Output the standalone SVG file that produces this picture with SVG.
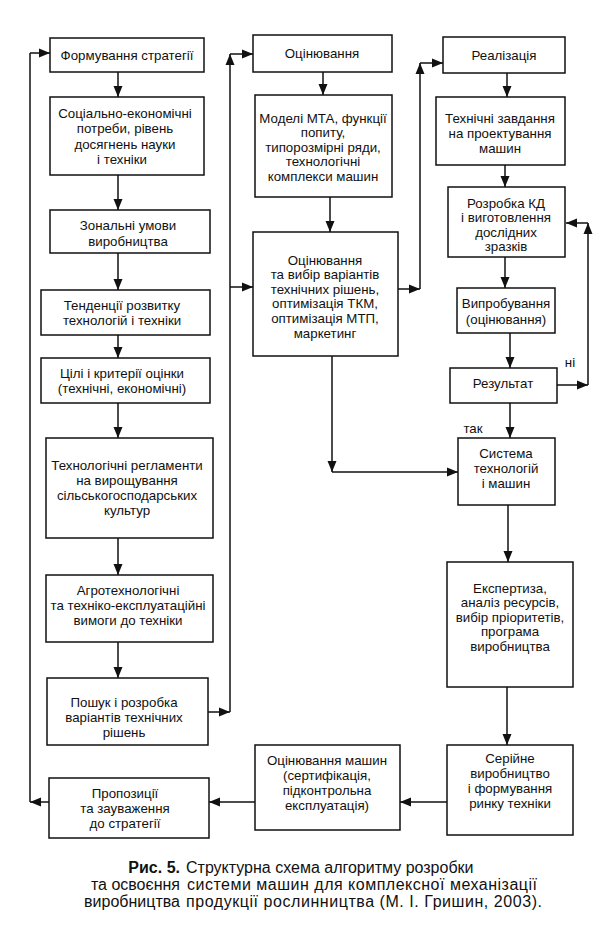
<svg xmlns="http://www.w3.org/2000/svg" width="608" height="928" viewBox="0 0 608 928">
<defs>
<marker id="ah" markerUnits="userSpaceOnUse" markerWidth="11" markerHeight="10" refX="11" refY="5" orient="auto">
<path d="M0,0.5 L11,5 L0,9.5 z" fill="#111"/>
</marker>
<style>
rect.b{fill:#fff;stroke:#111;stroke-width:1.5}
text{font-family:"Liberation Sans",Arial,sans-serif;font-size:13.3px;fill:#111;text-anchor:middle;dominant-baseline:central}
#connectors line{stroke:#111;stroke-width:1.5;fill:none}
.a{marker-end:url(#ah)}
text.cap{font-size:16px;dominant-baseline:auto}
text.l{text-anchor:end}
text.r{text-anchor:start}
</style>
</defs>
<rect width="608" height="928" fill="#fff"/>

<g id="connectors">
<line class="a" x1="118" y1="72" x2="118" y2="97"/>
<line class="a" x1="118" y1="175" x2="118" y2="210"/>
<line class="a" x1="118" y1="253" x2="118" y2="290"/>
<line class="a" x1="118" y1="335" x2="118" y2="358"/>
<line class="a" x1="118" y1="403" x2="118" y2="438"/>
<line class="a" x1="118" y1="538" x2="118" y2="575"/>
<line class="a" x1="118" y1="642" x2="118" y2="678"/>
<line class="a" x1="208" y1="712" x2="230" y2="712"/>
<line class="a" x1="230" y1="712" x2="230" y2="54"/>
<line class="a" x1="230" y1="54" x2="253" y2="54"/>
<line class="a" x1="230" y1="287" x2="253" y2="287"/>
<line class="a" x1="323" y1="72" x2="323" y2="95"/>
<line class="a" x1="330" y1="197" x2="330" y2="232"/>
<line class="a" x1="398" y1="289" x2="420" y2="289"/>
<line class="a" x1="420" y1="289" x2="420" y2="63"/>
<line class="a" x1="420" y1="63" x2="443" y2="63"/>
<line class="a" x1="332" y1="356" x2="332" y2="472"/>
<line class="a" x1="332" y1="472" x2="458" y2="472"/>
<line class="a" x1="507" y1="73" x2="507" y2="97"/>
<line class="a" x1="505" y1="165" x2="505" y2="187"/>
<line class="a" x1="505" y1="257" x2="505" y2="288"/>
<line class="a" x1="510" y1="333" x2="510" y2="368"/>
<line class="a" x1="557" y1="385" x2="588" y2="385"/>
<line class="a" x1="588" y1="385" x2="588" y2="223"/>
<line class="a" x1="588" y1="223" x2="566" y2="223"/>
<line class="a" x1="510" y1="403" x2="510" y2="438"/>
<line class="a" x1="508" y1="505" x2="508" y2="562"/>
<line class="a" x1="507" y1="687" x2="507" y2="745"/>
<line class="a" x1="447" y1="802" x2="400" y2="802"/>
<line class="a" x1="255" y1="802" x2="209" y2="802"/>
<line class="a" x1="49" y1="802" x2="30" y2="802"/>
<line x1="30" y1="802" x2="30" y2="53"/>
<line class="a" x1="30" y1="53" x2="50" y2="53"/>
<text x="570" y="362">ні</text>
<text x="473" y="428">так</text>
</g>

<g id="n1"><rect class="b" x="50" y="38" width="154" height="34"/>
<text x="127" y="55">Формування стратегії</text></g>

<g id="n2"><rect class="b" x="50" y="97" width="154" height="78"/>
<text x="125" y="113">Соціально-економічні</text>
<text x="125" y="128.5">потреби, рівень</text>
<text x="125" y="144">досягнень науки</text>
<text x="122" y="159.5">і техніки</text></g>

<g id="n3"><rect class="b" x="50" y="210" width="160" height="43"/>
<text x="128" y="225">Зональні умови</text>
<text x="128" y="241">виробництва</text></g>

<g id="n4"><rect class="b" x="41" y="290" width="169" height="45"/>
<text x="122" y="305">Тенденції розвитку</text>
<text x="122" y="320">технологій і техніки</text></g>

<g id="n5"><rect class="b" x="41" y="358" width="169" height="45"/>
<text x="122" y="373">Цілі і критерії оцінки</text>
<text x="122" y="388">(технічні, економічні)</text></g>

<g id="n6"><rect class="b" x="46" y="438" width="167" height="100"/>
<text x="127" y="465">Технологічні регламенти</text>
<text x="127" y="480">на вирощування</text>
<text x="127" y="495">сільськогосподарських</text>
<text x="127" y="510">культур</text></g>

<g id="n7"><rect class="b" x="46" y="575" width="167" height="67"/>
<text x="128" y="590">Агротехнологічні</text>
<text x="128" y="605">та техніко-експлуатаційні</text>
<text x="128" y="620">вимоги до техніки</text></g>

<g id="n8"><rect class="b" x="47" y="678" width="161" height="67"/>
<text x="124" y="702">Пошук і розробка</text>
<text x="124" y="717">варіантів технічних</text>
<text x="124" y="732">рішень</text></g>

<g id="n9"><rect class="b" x="49" y="778" width="160" height="60"/>
<text x="125" y="793">Пропозиції</text>
<text x="125" y="808">та зауваження</text>
<text x="125" y="823">до стратегії</text></g>

<g id="n10"><rect class="b" x="253" y="35" width="139" height="37"/>
<text x="322" y="53">Оцінювання</text></g>

<g id="n11"><rect class="b" x="255" y="95" width="137" height="102"/>
<text x="323" y="118">Моделі МТА, функції</text>
<text x="323" y="132.5">попиту,</text>
<text x="323" y="147">типорозмірні ряди,</text>
<text x="323" y="161.5">технологічні</text>
<text x="323" y="176">комплекси машин</text></g>

<g id="n12"><rect class="b" x="253" y="232" width="145" height="124"/>
<text x="325" y="260">Оцінювання</text>
<text x="325" y="274.6">та вибір варіантів</text>
<text x="325" y="289.2">технічних рішень,</text>
<text x="325" y="303.8">оптимізація ТКМ,</text>
<text x="325" y="318.4">оптимізація МТП,</text>
<text x="325" y="333">маркетинг</text></g>

<g id="n13"><rect class="b" x="255" y="745" width="145" height="85"/>
<text x="327" y="760">Оцінювання машин</text>
<text x="327" y="775">(сертифікація,</text>
<text x="327" y="790">підконтрольна</text>
<text x="327" y="805">експлуатація)</text></g>

<g id="n14"><rect class="b" x="443" y="37" width="122" height="36"/>
<text x="504" y="55">Реалізація</text></g>

<g id="n15"><rect class="b" x="436" y="97" width="129" height="68"/>
<text x="500" y="118">Технічні завдання</text>
<text x="500" y="133">на проектування</text>
<text x="500" y="148">машин</text></g>

<g id="n16"><rect class="b" x="448" y="187" width="117" height="70"/>
<text x="506" y="203">Розробка КД</text>
<text x="506" y="217.5">і виготовлення</text>
<text x="506" y="232">дослідних</text>
<text x="506" y="246.5">зразків</text></g>

<g id="n17"><rect class="b" x="457" y="288" width="98" height="45"/>
<text x="506" y="303">Випробування</text>
<text x="506" y="319">(оцінювання)</text></g>

<g id="n18"><rect class="b" x="450" y="368" width="107" height="35"/>
<text x="503" y="383">Результат</text></g>

<g id="n19"><rect class="b" x="458" y="438" width="97" height="67"/>
<text x="506" y="453">Система</text>
<text x="506" y="468">технологій</text>
<text x="506" y="483">і машин</text></g>

<g id="n20"><rect class="b" x="447" y="562" width="126" height="125"/>
<text x="510" y="588">Експертиза,</text>
<text x="510" y="602.5">аналіз ресурсів,</text>
<text x="510" y="617">вибір пріоритетів,</text>
<text x="510" y="631.5">програма</text>
<text x="510" y="646">виробництва</text></g>

<g id="n21"><rect class="b" x="447" y="745" width="126" height="90"/>
<text x="510" y="758">Серійне</text>
<text x="510" y="773">виробництво</text>
<text x="510" y="788">і формування</text>
<text x="510" y="803">ринку техніки</text></g>

<g id="caption">
<text class="cap l" x="180" y="873" style="font-weight:bold">Рис. 5.</text>
<text class="cap r" x="186" y="873">Структурна схема алгоритму розробки</text>
<text class="cap l" x="180" y="890">та освоєння</text>
<text class="cap r" x="187" y="890" textLength="350">системи машин для комплексної механізації</text>
<text class="cap l" x="180" y="907">виробництва</text>
<text class="cap r" x="186" y="907" textLength="356">продукції рослинництва (М. І. Гришин, 2003).</text>
</g>
</svg>
